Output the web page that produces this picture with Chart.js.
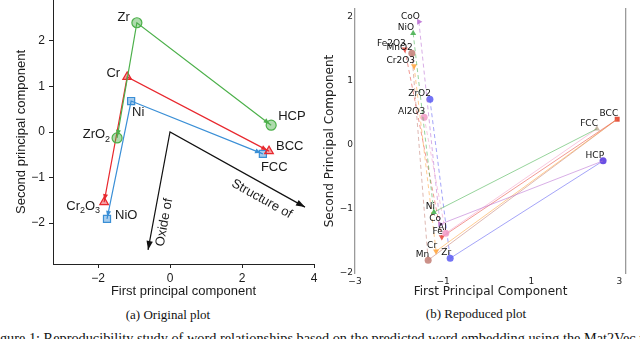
<!DOCTYPE html>
<html>
<head>
<meta charset="utf-8">
<script src="https://cdn.jsdelivr.net/npm/chart.js@4.4.1/dist/chart.umd.min.js"></script>
<style>
  html, body { margin: 0; padding: 0; background: #fff; overflow: hidden; }
  body { width: 640px; height: 339px; position: relative; }
  .wrap { position: absolute; top: 0; width: 320px; height: 300px; }
  #left-wrap { left: 0; }
  #right-wrap { left: 320px; }
  .caption { position: absolute; font-family: "Liberation Serif", serif; font-size: 13px; color: #111;
             white-space: nowrap; transform: translate(-50%, -50%); }
  #figure-caption { position: absolute; left: -12px; top: 330.5px; font-family: "Liberation Serif", serif;
                    font-size: 14.3px; line-height: 14.3px; color: #111; white-space: nowrap; }
</style>
</head>
<body>
<div class="wrap" id="left-wrap"><canvas id="orig-chart" width="320" height="300"></canvas></div>
<div class="wrap" id="right-wrap"><canvas id="repro-chart" width="320" height="300"></canvas></div>
<div class="caption" style="left:168px; top:315px;">(a) Original plot</div>
<div class="caption" style="left:476px; top:314px;">(b) Repoduced plot</div>
<div id="figure-caption">Figure 1: Reproducibility study of word relationships based on the predicted word embedding using the Mat2Vec model.</div>
<script>
// ---- (a) original plot ----
const origElements = ['Zr', 'Cr', 'Ni'];
const origElemX = [-0.92, -1.19, -1.08];
const origElemY = [2.40, 1.21, 0.68];
const origOxides = ['ZrO₂', 'Cr₂O₃', 'NiO'];
const origOxideX = [-1.47, -1.83, -1.75];
const origOxideY = [-0.13, -1.54, -1.91];
const origStructs = ['HCP', 'BCC', 'FCC'];
const origStructX = [2.81, 2.75, 2.58];
const origStructY = [0.15, -0.42, -0.48];
const origXTicks = [-2, 0, 2, 4];
const origYTicks = [-2, -1, 0, 1, 2];
// black guide arrows from the origin
const guideLabels = ['Oxide of', 'Structure of'];
const guideOrigin = [0, 0];
const guideOxideEnd = [-0.61, -2.59];
const guideStructEnd = [3.75, -1.65];

// ---- (b) reproduced plot ----
const reproElements = ['Ni', 'Co', 'Al', 'Fe', 'Cr', 'Mn', 'Zr'];
const reproElemX = [-1.21, -1.07, -0.94, -1.03, -1.16, -1.34, -0.84];
const reproElemY = [-1.05, -1.24, -1.38, -1.44, -1.66, -1.80, -1.77];
const reproOxides = ['NiO', 'CoO', 'Al2O3', 'Fe2O3', 'Cr2O3', 'MnO2', 'ZrO2'];
const reproOxideX = [-1.68, -1.55, -1.43, -1.87, -1.66, -1.71, -1.30];
const reproOxideY = [1.74, 1.92, 0.43, 1.49, 1.23, 1.43, 0.71];
const reproStructOf = ['FCC', 'HCP', 'FCC', 'BCC', 'BCC', 'BCC', 'HCP'];
const reproStructs = ['BCC', 'FCC', 'HCP'];
const reproStructX = [2.95, 2.49, 2.63];
const reproStructY = [0.40, 0.25, -0.25];
const reproXTicks = [-3, -1, 1, 3];
const reproYTicks = [-2, -1, 0, 1, 2];

// styles
const origColors = ['76,176,74', '232,40,46', '58,143,214'];
const origShapes = ['circle', 'triangle', 'rect'];
const reproColors = ['63,174,73', '184,107,209', '242,154,198', '232,71,60', '255,162,56', '194,125,115', '90,90,242'];
const reproShapes = ['triangle', 'triangle', 'circle', 'triangle', 'triangle', 'circle', 'circle'];
const reproRotations = [0, 90, 0, 180, 180, 0, 0];
const reproStructColors = ['rgba(226,64,42,0.9)', 'rgba(200,180,160,0.9)', 'rgba(90,60,224,0.9)'];
const reproStructShapes = ['rect', 'triangle', 'circle'];

const SANS = '"Liberation Sans", Arial, sans-serif';
const DEJAVU = '"DejaVu Sans", sans-serif';

const minusFmt = v => v < 0 ? '\u2212' + Math.abs(v) : String(v);
const zeroPad = s => { s.paddingTop = 0; s.paddingBottom = 0; s.paddingLeft = 0; s.paddingRight = 0; };

// draw text where subscript digits are set smaller and lower
function drawRich(ctx, text, x, y, align, size, family, color) {
    const subs = { '₀': '0', '₁': '1', '₂': '2', '₃': '3', '₄': '4' };
    const parts = [];
    for (const ch of text) {
        const sub = subs[ch] !== undefined;
        const c = sub ? subs[ch] : ch;
        const last = parts[parts.length - 1];
        if (last && last.sub === sub) last.t += c; else parts.push({ t: c, sub: sub });
    }
    const mainFont = size + 'px ' + family;
    const subFont = Math.round(size * 0.72) + 'px ' + family;
    let width = 0;
    parts.forEach(p => { ctx.font = p.sub ? subFont : mainFont; p.w = ctx.measureText(p.t).width; width += p.w; });
    let cx = align === 'right' ? x - width : (align === 'center' ? x - width / 2 : x);
    ctx.fillStyle = color;
    ctx.textAlign = 'left';
    ctx.textBaseline = 'middle';
    parts.forEach(p => {
        ctx.font = p.sub ? subFont : mainFont;
        ctx.fillText(p.t, cx, p.sub ? y + size * 0.32 : y);
        cx += p.w;
    });
}

function arrowHead(ctx, from, to, len, half, back, color) {
    const a = Math.atan2(to.y - from.y, to.x - from.x);
    const tx = to.x - back * Math.cos(a), ty = to.y - back * Math.sin(a);
    const bx = tx - len * Math.cos(a), by = ty - len * Math.sin(a);
    ctx.fillStyle = color;
    ctx.beginPath();
    ctx.moveTo(tx, ty);
    ctx.lineTo(bx + half * Math.sin(a), by - half * Math.cos(a));
    ctx.lineTo(bx - half * Math.sin(a), by + half * Math.cos(a));
    ctx.closePath();
    ctx.fill();
}

// ---------- chart (a) ----------
const origDatasets = origElements.map((el, i) => ({
    label: el,
    data: [
        { x: origOxideX[i], y: origOxideY[i] },
        { x: origElemX[i], y: origElemY[i] },
        { x: origStructX[i], y: origStructY[i] }
    ],
    showLine: true,
    borderColor: 'rgb(' + origColors[i] + ')',
    borderWidth: 1.2,
    pointStyle: origShapes[i],
    pointRadius: 5,
    pointBackgroundColor: 'rgba(' + origColors[i] + ',0.45)',
    pointBorderColor: 'rgb(' + origColors[i] + ')',
    pointBorderWidth: 1.2,
    headLen: 6, headHalf: 2.5, headBack: 2
}));
origDatasets.push({
    label: 'guide',
    data: [
        { x: guideOxideEnd[0], y: guideOxideEnd[1] },
        { x: guideOrigin[0], y: guideOrigin[1] },
        { x: guideStructEnd[0], y: guideStructEnd[1] }
    ],
    showLine: true,
    borderColor: '#111',
    borderWidth: 1.2,
    pointRadius: 0,
    headLen: 9, headHalf: 3.2, headBack: 0
});

// label offsets in pixels relative to the marker: [dx, dy, align]
const origElemOffsets = [[-7, -5, 'right'], [-7, -4, 'right'], [1, 11, 'left']];
const origOxideOffsets = [[-7, -3, 'right'], [-4, 4, 'right'], [8, -4, 'left']];
const origStructOffsets = [[7, -9, 'left'], [7, -5, 'left'], [-2, 14, 'left']];

const origPlugin = {
    id: 'origLabels',
    afterDatasetsDraw(chart) {
        const ctx = chart.ctx;
        ctx.save();
        chart.data.datasets.forEach((ds, i) => {
            const pts = chart.getDatasetMeta(i).data;
            [0, 2].forEach(j => arrowHead(ctx, pts[1], pts[j], ds.headLen, ds.headHalf, ds.headBack, ds.borderColor));
        });
        origElements.forEach((el, i) => {
            const pts = chart.getDatasetMeta(i).data;
            const groups = [[origOxides[i], pts[0], origOxideOffsets[i]],
                            [el, pts[1], origElemOffsets[i]],
                            [origStructs[i], pts[2], origStructOffsets[i]]];
            groups.forEach(([txt, p, o]) => drawRich(ctx, txt, p.x + o[0], p.y + o[1], o[2], 13, SANS, '#1a1a1a'));
        });
        // guide labels along the black arrows
        const g = chart.getDatasetMeta(origElements.length).data;
        const place = (end, t, off, text) => {
            const a = Math.atan2(end.y - g[1].y, end.x - g[1].x);
            let ang = a;
            if (Math.cos(ang) < 0) ang += Math.PI;
            const px = g[1].x + (end.x - g[1].x) * t - off * Math.sin(a);
            const py = g[1].y + (end.y - g[1].y) * t + off * Math.cos(a);
            ctx.save();
            ctx.translate(px, py);
            ctx.rotate(ang);
            drawRich(ctx, text, 0, 0, 'center', 13, SANS, '#1a1a1a');
            ctx.restore();
        };
        place(g[0], 0.75, -11, guideLabels[0]);
        place(g[2], 0.73, 14, guideLabels[1]);
        ctx.restore();
    }
};

new Chart(document.getElementById('orig-chart'), {
    type: 'scatter',
    data: { datasets: origDatasets },
    options: {
        responsive: false,
        animation: false,
        layout: { autoPadding: false, padding: { left: 0, right: 6, top: 0, bottom: 0 } },
        plugins: { legend: { display: false }, tooltip: { enabled: false } },
        scales: {
            x: {
                type: 'linear', min: -3.25, max: 4,
                afterBuildTicks: s => { s.ticks = origXTicks.map(v => ({ value: v })); },
                grid: { display: true, drawOnChartArea: false, drawTicks: true, tickLength: 4, color: '#222' },
                border: { display: true, color: '#222', width: 1 },
                ticks: { font: { family: SANS, size: 12 }, color: '#1a1a1a', padding: 3, maxRotation: 0,
                         autoSkip: false, callback: minusFmt },
                title: { display: true, text: 'First principal component', font: { family: SANS, size: 13 },
                         color: '#1a1a1a', padding: { top: 0, bottom: 1 } },
                afterFit: s => { s.height = 36; zeroPad(s); }
            },
            y: {
                type: 'linear', min: -2.9, max: 2.9,
                afterBuildTicks: s => { s.ticks = origYTicks.map(v => ({ value: v })); },
                grid: { display: true, drawOnChartArea: false, drawTicks: true, tickLength: 4, color: '#222' },
                border: { display: true, color: '#222', width: 1 },
                ticks: { font: { family: SANS, size: 12 }, color: '#1a1a1a', padding: 4, autoSkip: false, callback: minusFmt },
                title: { display: true, text: 'Second principal component', font: { family: SANS, size: 13 },
                         color: '#1a1a1a', padding: { top: 14, bottom: 0 } },
                afterFit: s => { s.width = 53; zeroPad(s); }
            }
        }
    },
    plugins: [origPlugin]
});

// ---------- chart (b) ----------
const reproDatasets = reproElements.map((el, i) => {
    const s = reproStructs.indexOf(reproStructOf[i]);
    return {
        label: el,
        data: [
            { x: reproOxideX[i], y: reproOxideY[i] },
            { x: reproElemX[i], y: reproElemY[i] },
            { x: reproStructX[s], y: reproStructY[s] }
        ],
        showLine: true,
        borderColor: 'rgba(' + reproColors[i] + ',0.55)',
        borderWidth: 1,
        segment: { borderDash: c => c.p0DataIndex === 0 ? [4, 3] : undefined },
        pointStyle: reproShapes[i],
        rotation: reproRotations[i],
        pointRadius: [3.5, 3.5, 0],
        pointBackgroundColor: 'rgba(' + reproColors[i] + ',0.85)',
        pointBorderWidth: 0
    };
});
reproDatasets.push({
    label: 'structures',
    data: reproStructs.map((s, i) => ({ x: reproStructX[i], y: reproStructY[i] })),
    showLine: false,
    pointStyle: reproStructShapes,
    pointRadius: 3.5,
    pointBackgroundColor: reproStructColors,
    pointBorderWidth: 0
});

const reproPlugin = {
    id: 'reproLabels',
    afterDatasetsDraw(chart) {
        const ctx = chart.ctx;
        ctx.save();
        ctx.font = '9px ' + DEJAVU;
        ctx.fillStyle = '#111';
        ctx.textAlign = 'right';
        ctx.textBaseline = 'bottom';
        reproElements.forEach((el, i) => {
            const pts = chart.getDatasetMeta(i).data;
            ctx.fillText(reproOxides[i], pts[0].x + 1, pts[0].y - 1);
            ctx.fillText(el, pts[1].x + 1, pts[1].y - 1);
        });
        const sp = chart.getDatasetMeta(reproElements.length).data;
        reproStructs.forEach((s, i) => ctx.fillText(s, sp[i].x + 1, sp[i].y - 1));
        ctx.restore();
    }
};

new Chart(document.getElementById('repro-chart'), {
    type: 'scatter',
    data: { datasets: reproDatasets },
    options: {
        responsive: false,
        animation: false,
        layout: { autoPadding: false, padding: { left: 0, right: 14, top: 9, bottom: 0 } },
        plugins: { legend: { display: false }, tooltip: { enabled: false } },
        scales: {
            x: {
                type: 'linear', min: -3, max: 3.15,
                afterBuildTicks: s => { s.ticks = reproXTicks.map(v => ({ value: v })); },
                grid: { display: false, drawTicks: false, tickLength: 0 },
                border: { display: false },
                ticks: { font: { family: DEJAVU, size: 9 }, color: '#222', padding: 3, maxRotation: 0,
                         autoSkip: false, callback: minusFmt },
                title: { display: true, text: 'First Principal Component', font: { family: DEJAVU, size: 12 },
                         color: '#222', padding: { top: 0, bottom: 1 } },
                afterFit: s => { s.height = 27; zeroPad(s); }
            },
            y: {
                type: 'linear', min: -2, max: 2.12,
                afterBuildTicks: s => { s.ticks = reproYTicks.map(v => ({ value: v })); },
                grid: { display: false, drawTicks: false, tickLength: 0 },
                border: { display: true, color: '#9a9a9a', width: 1.3 },
                ticks: { font: { family: DEJAVU, size: 9 }, color: '#222', padding: 2, autoSkip: false, callback: minusFmt },
                title: { display: true, text: 'Second Principal Component', font: { family: DEJAVU, size: 12 },
                         color: '#222', padding: { top: 3, bottom: 0 } },
                afterFit: s => { s.width = 35; zeroPad(s); }
            },
            y2: {
                type: 'linear', position: 'right', min: -2, max: 2.12,
                ticks: { display: false },
                grid: { display: false, drawTicks: false, tickLength: 0 },
                border: { display: true, color: '#9a9a9a', width: 1.3 },
                afterFit: s => { s.width = 0; zeroPad(s); }
            }
        }
    },
    plugins: [reproPlugin]
});
</script>
</body>
</html>
